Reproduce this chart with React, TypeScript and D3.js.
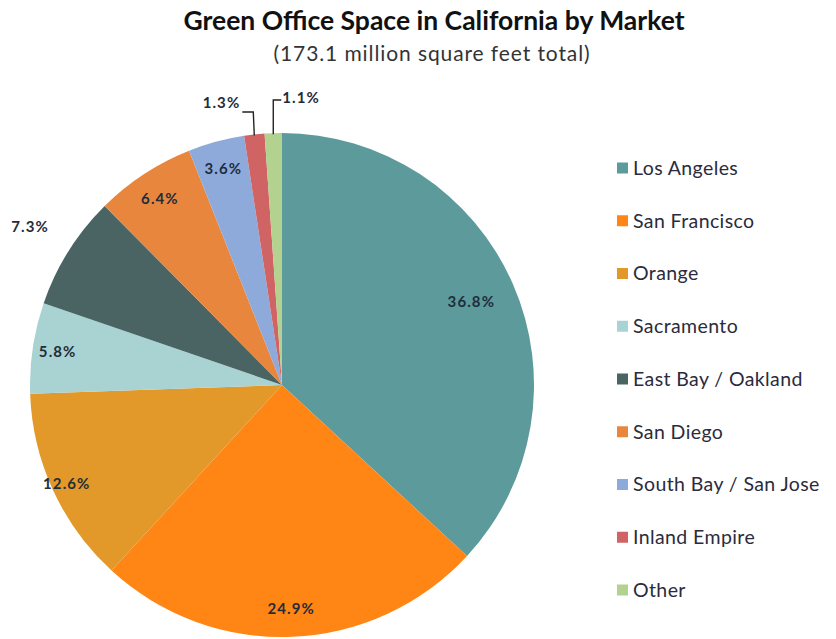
import React from "react";
import * as d3 from "d3";

const markets = [
  "Los Angeles",
  "San Francisco",
  "Orange",
  "Sacramento",
  "East Bay / Oakland",
  "San Diego",
  "South Bay / San Jose",
  "Inland Empire",
  "Other",
];
const shares = [36.8, 24.9, 12.6, 5.8, 7.3, 6.4, 3.6, 1.3, 1.1];
const colors = [
  "#5d9a9c",
  "#ff8514",
  "#e3992a",
  "#a9d2d2",
  "#4a6464",
  "#e8863e",
  "#8eaadb",
  "#d06464",
  "#b3d18f",
];

const W = 836;
const H = 639;
const cx = 282;
const cy = 385;
const R = 252;

// label placement (fraction of radius) for each slice; small slices use leader lines
const labelRadius = [0.82, 0.89, 0.94, 0.9, 1.18, 0.885, 0.89, 0, 0];

export default function App() {
  const pie = d3
    .pie<number>()
    .sort(null)
    .value((d) => d);
  const arcs = pie(shares);
  const arc = d3.arc<d3.PieArcDatum<number>>().innerRadius(0).outerRadius(R);

  const pt = (a: number, r: number) => [cx + r * Math.sin(a), cy - r * Math.cos(a)];

  const legendY = d3.scalePoint<string>().domain(markets).range([168, 590]);

  const font = "Lato, 'Open Sans', sans-serif";
  const lblSize = 15;
  const lblSpacing = 1.1;
  const lblColor = "#1f2d3a";

  return (
    <svg width={W} height={H} style={{ position: "absolute", left: 0, top: 0, background: "#fff" }}>
      <text x={434} y={30} textAnchor="middle" fontFamily={font} fontWeight="bold" fontSize={26.5} fill="#111">
        Green Office Space in California by Market
      </text>
      <text
        x={432}
        y={61}
        textAnchor="middle"
        fontFamily={font}
        fontSize={21}
        letterSpacing={0.9}
        fill="#333"
      >
        (173.1 million square feet total)
      </text>
      <g transform={`translate(${cx},${cy})`}>
        {arcs.map((a, i) => (
          <path key={i} d={arc(a) || ""} fill={colors[i]} />
        ))}
      </g>
      {arcs.map((a, i) => {
        const mid = (a.startAngle + a.endAngle) / 2;
        const txt = shares[i].toFixed(1) + "%";
        if (i === 7) {
          const [px, py] = pt(mid, R);
          return (
            <g key={i}>
              <polyline
                points={`${px},${py + 1} ${px - 1},${112} ${px - 12},${112}`}
                fill="none"
                stroke="#222"
                strokeWidth={1.4}
              />
              <text
                x={px - 14}
                y={108}
                textAnchor="end"
                fontFamily={font}
                fontWeight="bold"
                fontSize={lblSize}
                letterSpacing={lblSpacing}
                fill={lblColor}
              >
                {txt}
              </text>
            </g>
          );
        }
        if (i === 8) {
          const [px, py] = pt(mid, R);
          return (
            <g key={i}>
              <polyline
                points={`${px},${py + 1} ${px},${100} ${px + 8},${100}`}
                fill="none"
                stroke="#222"
                strokeWidth={1.4}
              />
              <text
                x={px + 9}
                y={103}
                textAnchor="start"
                fontFamily={font}
                fontWeight="bold"
                fontSize={lblSize}
                letterSpacing={lblSpacing}
                fill={lblColor}
              >
                {txt}
              </text>
            </g>
          );
        }
        const [lx, ly] = pt(mid, R * labelRadius[i]);
        return (
          <text
            key={i}
            x={lx}
            y={ly}
            dy="0.35em"
            textAnchor="middle"
            fontFamily={font}
            fontWeight="bold"
            fontSize={lblSize}
            letterSpacing={lblSpacing}
            fill={lblColor}
          >
            {txt}
          </text>
        );
      })}
      {markets.map((m, i) => (
        <g key={m} transform={`translate(617,${legendY(m)})`}>
          <rect x={0} y={-5.5} width={11} height={11} fill={colors[i]} />
          <text x={16} y={0} dy="0.35em" fontFamily={font} fontSize={19.5} letterSpacing={0.4} fill="#2b2b3d">
            {m}
          </text>
        </g>
      ))}
    </svg>
  );
}
